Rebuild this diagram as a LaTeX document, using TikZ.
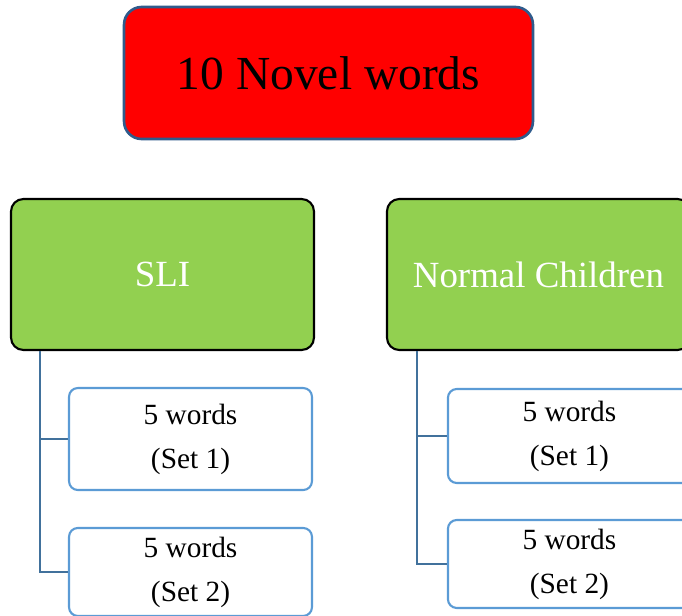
\documentclass[tikz,border=0pt]{standalone}
\usepackage{fontspec}
\setmainfont{Liberation Serif}
\usepackage{xcolor}
\usepackage{tikz}
\usetikzlibrary{positioning}
\definecolor{boxred}{HTML}{FF0000}
\definecolor{boxgreen}{HTML}{92D050}
\definecolor{edgeblue}{HTML}{2F5B8C}
\definecolor{setblue}{HTML}{5B9BD5}
\definecolor{lineblue}{HTML}{41719C}
\tikzstyle{title}   = [rectangle, draw=edgeblue, line width=1.5pt, fill=boxred, rounded corners=10pt, minimum width=8.18cm, minimum height=2.64cm, inner sep=0pt, font=\fontsize{27}{30}\selectfont]
\tikzstyle{group}   = [rectangle, draw=black, line width=1.2pt, fill=boxgreen, text=white, rounded corners=7pt, minimum width=6.06cm, minimum height=3.02cm, inner sep=0pt, font=\fontsize{21}{25}\selectfont]
\tikzstyle{wordset} = [rectangle, draw=setblue, line width=1.2pt, fill=white, rounded corners=5pt, minimum width=4.86cm, inner sep=0pt, align=center, font=\fontsize{16.7}{25}\selectfont]
\tikzstyle{line}    = [draw=lineblue, line width=1.5pt]

\begin{document}
\begin{tikzpicture}[x=0.02cm, y=-0.02cm]
        \useasboundingbox (0,0) rectangle (682,615);
        \clip (0,0) rectangle (682,615);
        \node [title] (novel) at (328.5,73) {10 Novel words};
        \node [group] (sli) at (162.5,274.5) {SLI};
        \node [group, right of=sli, node distance=7.52cm] (normal) {Normal Children};
        \node [wordset, minimum height=2.04cm] (sliA) at (190.5,439) {5 words\\(Set 1)};
        \node [wordset, minimum height=1.76cm, below of=sliA, node distance=2.66cm] (sliB) {5 words\\(Set 2)};
        \node [wordset, minimum height=1.88cm, right of=sliA, node distance=7.58cm, yshift=0.06cm] (normA) {5 words\\(Set 1)};
        \node [wordset, minimum height=1.76cm, below of=normA, node distance=2.56cm] (normB) {5 words\\(Set 2)};
        \path [line] ([xshift=0.6cm]sli.south west) |- (sliA.west);
        \path [line] ([xshift=0.6cm]sli.south west) |- (sliB.west);
        \path [line] ([xshift=0.62cm]normal.south west) |- (normA.west);
        \path [line] ([xshift=0.62cm]normal.south west) |- (normB.west);
    \end{tikzpicture}
\end{document}
